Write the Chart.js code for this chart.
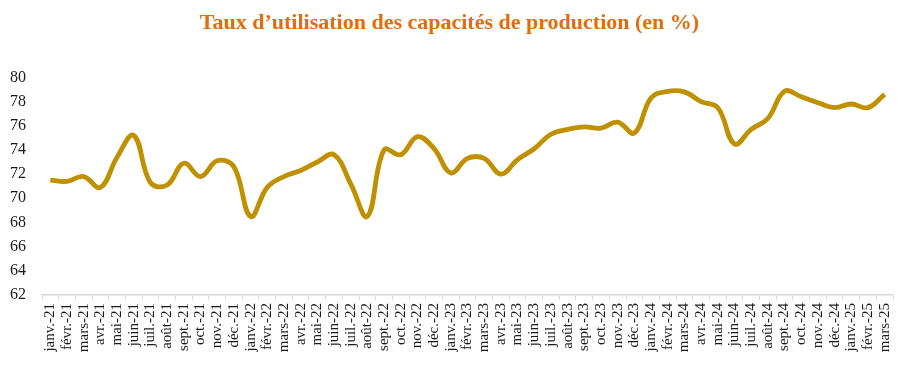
<!DOCTYPE html>
<html>
<head>
<meta charset="utf-8">
<script src="https://cdn.jsdelivr.net/npm/chart.js@4/dist/chart.umd.min.js"></script>
<style>
html,body{margin:0;padding:0;background:#fff;}
#wrap{width:908px;height:380px;position:relative;}
</style>
</head>
<body>
<div id="wrap"><canvas id="c"></canvas></div>
<script>
const categories = [
 "janv.-21","févr.-21","mars-21","avr.-21","mai-21","juin-21","juil.-21","août-21","sept.-21","oct.-21","nov.-21","déc.-21",
 "janv.-22","févr.-22","mars-22","avr.-22","mai-22","juin-22","juil.-22","août-22","sept.-22","oct.-22","nov.-22","déc.-22",
 "janv.-23","févr.-23","mars-23","avr.-23","mai-23","juin-23","juil.-23","août-23","sept.-23","oct.-23","nov.-23","déc.-23",
 "janv.-24","févr.-24","mars-24","avr.-24","mai-24","juin-24","juil.-24","août-24","sept.-24","oct.-24","nov.-24","déc.-24",
 "janv.-25","févr.-25","mars-25"
];
const tauxUtilisation = [
 71.5,71.4,71.8,70.9,73.4,75.2,71.3,71.1,72.9,71.8,73.1,72.6,
 68.5,70.9,71.8,72.3,73.0,73.6,71.2,68.5,74.0,73.6,75.1,74.1,
 72.1,73.3,73.3,72.0,73.2,74.1,75.3,75.7,75.9,75.8,76.3,75.4,
 78.3,78.85,78.8,78.0,77.5,74.5,75.7,76.6,78.85,78.4,77.9,77.5,
 77.8,77.5,78.6
];
const yTicks = [62,64,66,68,70,72,74,76,78,80];
const titleText = "Taux d’utilisation des capacités de production (en %)";

new Chart(document.getElementById('c'), {
  type: 'line',
  data: {
    labels: categories,
    datasets: [{
      data: tauxUtilisation,
      borderColor: '#BF9000',
      backgroundColor: '#BF9000',
      borderWidth: 4.8,
      pointRadius: 0,
      tension: 0.4,
      fill: false
    }]
  },
  options: {
    responsive: true,
    maintainAspectRatio: false,
    animation: false,
    layout: { padding: { left: 6, right: 15, top: 5, bottom: 0 } },
    plugins: {
      legend: { display: false },
      tooltip: { enabled: false },
      title: {
        display: true,
        text: titleText,
        color: '#E46C0A',
        font: { family: 'Liberation Serif', size: 22, weight: 'bold', lineHeight: 1.2 },
        padding: { top: 5, bottom: 41 }
      }
    },
    scales: {
      x: {
        offset: true,
        afterFit: (s) => { s.height = 85; },
        grid: { display: true, drawOnChartArea: false, drawTicks: true, tickLength: 5, color: '#d9d9d9', offset: true },
        border: { display: true, color: '#d9d9d9', width: 1.5 },
        ticks: {
          autoSkip: false,
          maxRotation: 90, minRotation: 90,
          color: '#1a1a1a',
          padding: 3,
          font: { family: 'Liberation Serif', size: 15 }
        }
      },
      y: {
        min: 62, max: 80,
        afterBuildTicks: (axis) => { axis.ticks = yTicks.map(v => ({ value: v })); },
        afterFit: (s) => { s.width = 36; },
        grid: { display: false, drawTicks: false },
        border: { display: false },
        ticks: {
          color: '#1a1a1a',
          padding: 16,
          font: { family: 'Liberation Serif', size: 16 }
        }
      }
    }
  }
});
</script>
</body>
</html>
